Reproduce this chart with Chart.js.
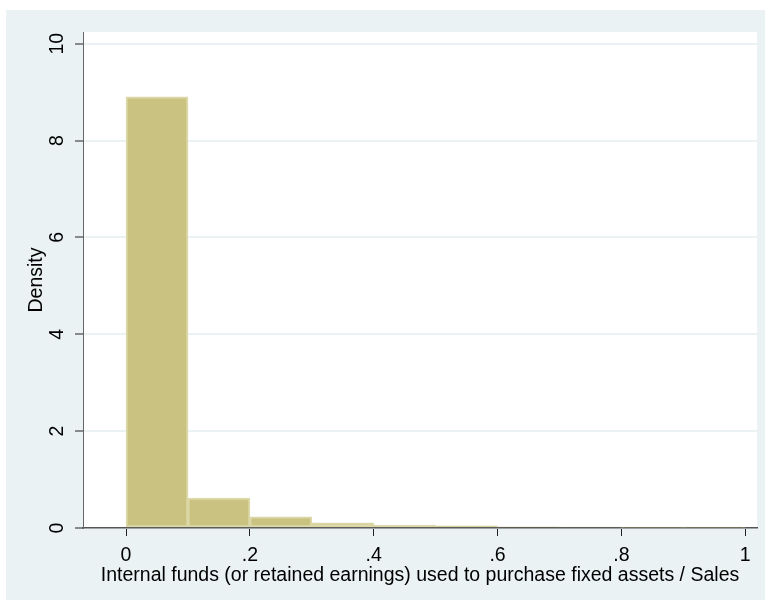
<!DOCTYPE html>
<html>
<head>
<meta charset="utf-8">
<script src="https://cdn.jsdelivr.net/npm/chart.js@4"></script>
<style>
  body { margin: 0; background: #fff; }
  canvas { display: block; }
</style>
</head>
<body>
<canvas id="histChart" width="765" height="605"></canvas>
<script>
// histogram bins (width .1) and density heights
const binCenters = [0.05, 0.15, 0.25, 0.35, 0.45, 0.55, 0.65, 0.75, 0.85, 0.95];
const densities = [8.9, 0.62, 0.23, 0.107, 0.058, 0.045, 0.022, 0.02, 0.018, 0.015];
const xTicks = [0, 0.2, 0.4, 0.6, 0.8, 1];
const yTicks = [0, 2, 4, 6, 8, 10];
const xTitle = 'Internal funds (or retained earnings) used to purchase fixed assets / Sales';
const yTitle = 'Density';

Chart.defaults.font.family = 'Arial, "Liberation Sans", Helvetica, sans-serif';
Chart.defaults.color = '#000';

const fmt = v => (v === 0 || v === 1) ? String(v) : String(v).replace(/^0/, '');

const stataBg = {
  id: 'stataBg',
  beforeDraw(chart) {
    const ctx = chart.ctx;
    const a = chart.chartArea;
    ctx.save();
    ctx.fillStyle = '#fff';
    ctx.fillRect(0, 0, chart.width, chart.height);
    ctx.fillStyle = '#eaf2f3';
    ctx.fillRect(6, 10, 759, 590);
    ctx.fillStyle = '#fff';
    ctx.fillRect(a.left, a.top, a.right - a.left, a.bottom - a.top);
    ctx.restore();
  },
  afterDraw(chart) {
    // rotated y tick labels and y title, Stata style
    const ctx = chart.ctx;
    const y = chart.scales.y;
    ctx.save();
    ctx.fillStyle = '#000';
    ctx.font = '19.5px Arial, "Liberation Sans", sans-serif';
    ctx.textAlign = 'center';
    ctx.textBaseline = 'middle';
    yTicks.forEach(v => {
      ctx.save();
      ctx.translate(58, y.getPixelForValue(v));
      ctx.rotate(-Math.PI / 2);
      ctx.fillText(String(v), 0, 0);
      ctx.restore();
    });
    ctx.save();
    ctx.translate(37, (chart.chartArea.top + chart.chartArea.bottom) / 2);
    ctx.rotate(-Math.PI / 2);
    ctx.fillText(yTitle, 0, 0);
    ctx.restore();
    ctx.restore();
  }
};

new Chart(document.getElementById('histChart'), {
  type: 'bar',
  data: {
    datasets: [{
      data: binCenters.map((c, i) => ({ x: c, y: densities[i] })),
      backgroundColor: '#c9c281',
      borderColor: '#dcd7a6',
      borderWidth: 2,
      borderSkipped: false,
      barPercentage: 1,
      categoryPercentage: 1
    }]
  },
  options: {
    responsive: false,
    animation: false,
    layout: { padding: { top: 32, right: 8, left: 0, bottom: 0 } },
    plugins: {
      legend: { display: false },
      tooltip: { enabled: false }
    },
    scales: {
      x: {
        type: 'linear',
        min: -0.0695,
        max: 1.019,
        offset: false,
        afterBuildTicks: s => { s.ticks = xTicks.map(v => ({ value: v })); },
        afterFit: s => { s.height = 77; },
        grid: { offset: false, drawOnChartArea: false, drawTicks: true, tickLength: 8, tickColor: '#222', tickWidth: 1 },
        border: { color: '#555', width: 1.5 },
        ticks: {
          autoSkip: false,
          maxRotation: 0,
          padding: 8,
          font: { size: 19.5 },
          color: '#000',
          callback: v => fmt(v)
        },
        title: {
          display: true,
          text: xTitle,
          font: { size: 19.5 },
          color: '#000',
          padding: { top: 0, bottom: 18 }
        }
      },
      y: {
        min: 0,
        max: 10.24,
        afterBuildTicks: s => { s.ticks = yTicks.map(v => ({ value: v })); },
        afterFit: s => { s.width = 83; },
        grid: { color: '#eaf2f3', lineWidth: 2, drawTicks: true, tickLength: 8, tickColor: '#222', tickWidth: 1 },
        border: { color: '#666', width: 1 },
        ticks: { display: false }
      }
    }
  },
  plugins: [stataBg]
});
</script>
</body>
</html>
